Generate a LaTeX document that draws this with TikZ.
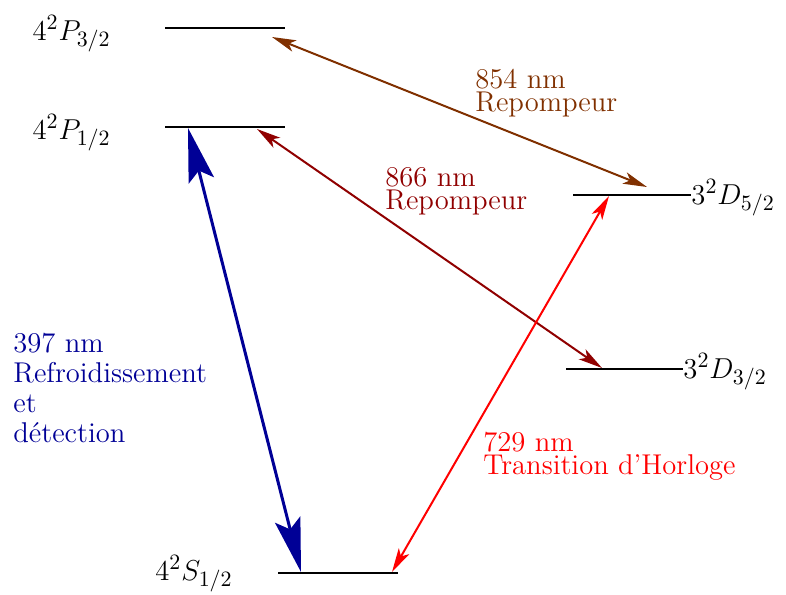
\documentclass[tikz,border=0pt]{standalone}
\usetikzlibrary{arrows.meta}
\definecolor{brun}{RGB}{128,48,0}
\definecolor{rouge}{RGB}{144,0,0}
\definecolor{bleu}{RGB}{0,0,150}
\newcommand{\niveau}[4]{\coordinate (#1g) at (#2,#4);
	\coordinate (#1d) at (#3,#4);
	\draw[epais] (#1g) -- (#1d)}
\newcommand{\trans}[3]{\draw[#1] (#2) -- (#3)}
\tikzset{
	epais/.style={line width=1pt},
	fleche/.style={{Stealth[length=12pt,width=6pt,inset=3pt]}-{Stealth[length=12pt,width=6pt,inset=3pt]}, line width=1pt},
	grosse/.style={{Stealth[length=27pt,width=13pt,inset=5pt]}-{Stealth[length=27pt,width=13pt,inset=5pt]}, line width=1.5pt},
	etat/.style={inner sep=0pt, font=\fontsize{15.5}{18}\selectfont},
	texte/.style={inner sep=0pt, align=left, anchor=north west, font=\fontsize{14.3}{11.5}\selectfont}
}
\begin{document}
\begin{tikzpicture}[x=0.5pt, y=-0.5pt]
	\useasboundingbox (0,0) rectangle (786,594);
%Levels
	\niveau{P32}{165}{285}{28};
	\niveau{P12}{165}{285}{127};
	\niveau{D52}{573}{691}{195};
	\niveau{D32}{566}{683}{369};
	\niveau{S12}{278}{398}{573};
%Level names
	\node[etat, anchor=base east] (nP32) at (111,40) {$4^2P_{3/2}$};
	\node[etat, anchor=base east] (nP12) at (111,139) {$4^2P_{1/2}$};
	\node[etat, anchor=base west] (nD52) at (D52d |- 0,204) {$3^2D_{5/2}$};
	\node[etat, anchor=base west] (nD32) at (D32d |- 0,378) {$3^2D_{3/2}$};
	\node[etat, anchor=base east] (nS12) at (233,580) {$4^2S_{1/2}$};
%Ends of the transitions
	\coordinate (a1) at (272,37);
	\coordinate (a2) at (647,187);
	\coordinate (b1) at (257,129);
	\coordinate (b2) at (602,368);
	\coordinate (c1) at (188,128);
	\coordinate (c2) at (301,572);
	\coordinate (d1) at (609,196);
	\coordinate (d2) at (392,572);
%Transitions
	\trans{fleche, brun}{a1}{a2};
	\trans{fleche, rouge}{b1}{b2};
	\trans{grosse, bleu}{c1}{c2};
	\trans{fleche, red}{d1}{d2};
%Wavelengths
	\node[texte, brun] (t854) at (475,69) {854 nm\\Repompeur};
	\node[texte, rouge] (t866) at (385,167) {866 nm\\Repompeur};
	\node[texte, bleu, font=\fontsize{14.3}{15}\selectfont] (t397) at (13,333) {397 nm\\Refroidissement\\et\\détection};
	\node[texte, red] (t729) at (483,432) {729 nm\\Transition d'Horloge};
\end{tikzpicture}
\end{document}
